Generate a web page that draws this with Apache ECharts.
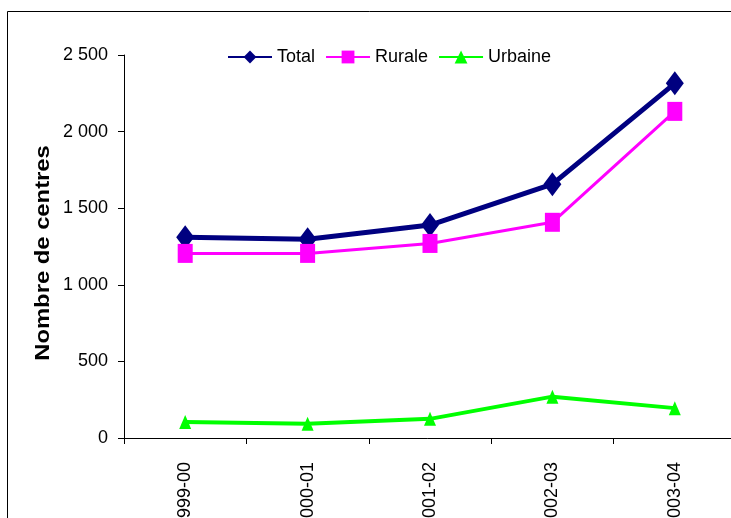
<!DOCTYPE html>
<html>
<head>
<meta charset="utf-8">
<script src="https://cdn.jsdelivr.net/npm/echarts@6/dist/echarts.min.js"></script>
<style>
html,body{margin:0;padding:0;background:#fff;}
#chart{width:731px;height:518px;}
</style>
</head>
<body>
<div id="chart"></div>
<script>
const categories = ['1999-00', '2000-01', '2001-02', '2002-03', '2003-04'];
const total = [1310, 1298, 1390, 1657, 2315];
const rurale = [1205, 1205, 1270, 1408, 2132];
const urbaine = [105, 93, 125, 270, 195];
const seriesNames = ['Total', 'Rurale', 'Urbaine'];
const yAxisTitle = 'Nombre de centres';

const FONT = '"Liberation Sans", Arial, sans-serif';
function fmt(v) {
  if (v >= 1000) return Math.floor(v / 1000) + ' ' + String(v % 1000).padStart(3, '0');
  return String(v);
}

const chart = echarts.init(document.getElementById('chart'), null, {renderer: 'canvas'});
chart.setOption({
  animation: false,
  backgroundColor: '#fff',
  textStyle: {fontFamily: FONT},
  graphic: [{
    type: 'rect',
    z: -10,
    silent: true,
    shape: {x: 7.5, y: 11.5, width: 900, height: 900},
    style: {fill: 'none', stroke: '#000', lineWidth: 1}
  }, {
    type: 'text',
    silent: true,
    x: 43,
    y: 253,
    rotation: Math.PI / 2,
    scaleX: 1.19,
    style: {
      text: yAxisTitle,
      font: 'bold 20px ' + FONT,
      fill: '#000',
      textAlign: 'center',
      textVerticalAlign: 'middle'
    }
  }],
  legend: {
    left: 222,
    top: 43,
    itemWidth: 44,
    itemHeight: 16,
    itemGap: 10,
    textStyle: {fontSize: 18, color: '#000', fontFamily: FONT},
    data: seriesNames
  },
  grid: {left: 124, top: 55, right: -5, bottom: 80, containLabel: false, outerBoundsMode: 'none'},
  xAxis: {
    type: 'category',
    data: categories,
    boundaryGap: true,
    axisLine: {lineStyle: {color: '#000', width: 1}},
    axisTick: {show: true, length: 6, interval: 0, lineStyle: {color: '#000'}},
    axisLabel: {rotate: 90, margin: 24, fontSize: 18, color: '#000', fontFamily: FONT, interval: 0}
  },
  yAxis: {
    type: 'value',
    min: 0,
    max: 2500,
    interval: 500,
    splitLine: {show: false},
    axisLine: {show: true, lineStyle: {color: '#000', width: 1}},
    axisTick: {show: true, length: 6, lineStyle: {color: '#000'}},
    axisLabel: {margin: 16, fontSize: 18, color: '#000', fontFamily: FONT, formatter: fmt}
  },
  series: [
    {
      name: seriesNames[0], type: 'line', data: total,
      symbol: 'diamond', symbolSize: [18, 24],
      lineStyle: {color: '#000080', width: 5},
      itemStyle: {color: '#000080'}
    },
    {
      name: seriesNames[1], type: 'line', data: rurale,
      symbol: 'rect', symbolSize: [15, 19],
      lineStyle: {color: '#FF00FF', width: 3},
      itemStyle: {color: '#FF00FF'}
    },
    {
      name: seriesNames[2], type: 'line', data: urbaine,
      symbol: 'triangle', symbolSize: [12, 14],
      lineStyle: {color: '#00FF00', width: 4},
      itemStyle: {color: '#00FF00'}
    }
  ]
});
</script>
</body>
</html>
